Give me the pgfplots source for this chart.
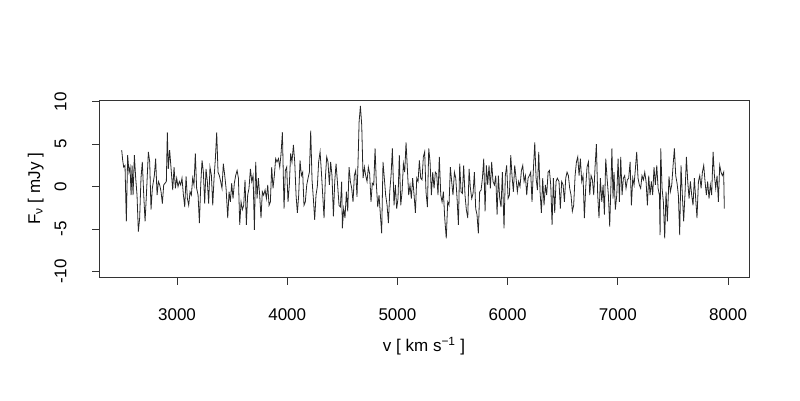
\documentclass[border=0pt]{standalone}
\usepackage{fontspec}
\setmainfont{Liberation Sans}
\usepackage{pgfplots}
\pgfplotsset{compat=1.18}
\begin{document}
\begin{tikzpicture}[x=1bp,y=1bp]
\path[use as bounding box] (0,0) rectangle (800,400);
\begin{axis}[
  at={(99bp,122.5bp)}, anchor=south west,
  scale only axis, width=650bp, height=177.5bp,
  xmin=2292, xmax=8190, ymin=-10.7, ymax=10.2,
  axis line style={black!80, line width=0.8bp},
  xtick={3000,4000,5000,6000,7000,8000},
  ytick={-10,-5,0,5,10},
  xtick pos=bottom, ytick pos=left,
  tick align=outside, major tick length=7bp,
  tick style={black!80, line width=0.8bp},
  scaled x ticks=false,
  /pgf/number format/assume math mode=true,
  /pgf/number format/set thousands separator={},
  ticklabel style={font=\fontsize{17bp}{20bp}\selectfont},
  yticklabel style={rotate=90, anchor=south},
  xticklabel shift=21bp, yticklabel shift=22bp,
  label style={font=\fontsize{17bp}{20bp}\selectfont},
  xlabel shift=9bp, ylabel shift=4bp,
  xlabel={v [ km s\textsuperscript{−1} ]},
  ylabel={F\textsubscript{ν} [ mJy ]},
]
\addplot[black!85, line width=0.8bp, mark=none] coordinates {
(2498,4.3) (2507,3.1) (2516,2.3) (2528,2.5) (2540,-4.1) (2552,3.7) (2564,1.7) (2574,2.3)
(2583,-1.0) (2592,2.5) (2601,-1.0) (2613,3.7) (2625,1.0) (2637,-1.0) (2649,-5.3) (2661,-3.7)
(2673,1.0) (2685,2.9) (2698,-1.0) (2710,-4.1) (2722,-1.0) (2740,4.1) (2752,2.9) (2764,-2.7)
(2776,-0.2) (2794,1.3) (2806,3.3) (2819,-1.0) (2831,0.6) (2843,0.2) (2855,-0.6) (2867,-2.0)
(2879,0.2) (2891,0.4) (2903,0.6) (2912,6.4) (2921,2.1) (2933,4.3)
(2961,-0.4) (2973,2.3) (2985,-0.2) (2997,1.0) (3009,0.0) (3021,0.6) (3033,0.2) (3045,1.0)
(3058,-1.0) (3070,-2.4) (3082,1.2) (3094,-1.4) (3106,-2.2) (3118,-0.6) (3130,-1.0) (3142,1.0)
(3154,0.2) (3166,3.9) (3178,-0.2) (3191,-1.0) (3203,-4.3) (3215,0.2) (3227,3.1) (3239,1.7)
(3251,-2.0) (3263,2.1) (3275,0.6) (3287,-2.0) (3299,2.3) (3312,1.3) (3324,-2.2) (3336,1.0)
(3348,3.3) (3360,6.4) (3372,1.7) (3384,1.3) (3396,0.6) (3408,-0.2) (3420,2.7) (3433,1.3)
(3445,-0.2)
(3460,-3.7) (3472,-0.6) (3484,-1.8) (3496,0.4) (3508,-1.4) (3520,0.4) (3532,1.3) (3545,1.9)
(3557,1.0) (3569,-4.5) (3581,-1.8) (3593,-2.7) (3605,-2.2) (3617,0.8) (3629,-4.5) (3641,-1.0)
(3653,-0.2) (3666,2.1) (3678,0.6) (3690,1.3) (3702,-5.1) (3714,2.9) (3726,-1.4) (3738,1.0)
(3750,-1.0) (3762,-3.7) (3774,-0.6) (3786,-1.0) (3799,-0.4) (3811,-1.4) (3823,0.2) (3835,-2.2)
(3847,-1.8) (3859,2.3) (3871,-0.2) (3883,1.3) (3895,3.3) (3907,2.9) (3920,3.3) (3932,2.3)
(3944,3.9) (3956,6.4)
(3971,-2.6) (3983,1.9) (3995,2.3) (4007,-1.8) (4019,0.2) (4031,3.9) (4043,2.9) (4056,4.9)
(4068,2.9) (4080,-1.0) (4092,-3.1) (4104,-1.0) (4116,3.1) (4128,1.3) (4140,1.7) (4152,-2.2)
(4164,-1.8) (4177,0.2) (4189,1.0) (4201,1.7) (4213,6.6) (4225,0.8) (4237,-1.4) (4249,-3.9)
(4261,-1.0) (4273,0.0) (4285,2.9) (4298,4.1) (4310,1.7) (4322,-1.0) (4334,-3.7) (4346,1.0)
(4358,3.5) (4370,2.9) (4382,0.2) (4394,2.9) (4406,1.3) (4419,-3.5) (4431,0.6) (4443,2.7)
(4455,0.6)
(4470,-2.2) (4482,-2.4) (4494,0.6) (4500,-4.9) (4512,-2.6) (4524,-3.7) (4537,-0.6) (4549,-2.9)
(4561,2.3) (4573,0.6) (4585,-0.2) (4597,-1.8) (4609,1.3) (4621,1.9) (4633,-1.2) (4645,4.1)
(4652,7.6) (4664,9.5) (4676,7.2) (4688,1.0) (4700,2.3) (4712,1.3) (4724,0.6) (4736,2.3)
(4748,1.5) (4760,-1.8) (4772,0.4) (4785,0.2) (4797,4.5) (4809,0.2) (4821,-2.4) (4833,-1.0)
(4845,-3.3) (4857,-5.5) (4869,2.9) (4881,1.0) (4893,-1.0) (4906,-2.2) (4918,-4.3) (4930,-0.6)
(4942,1.3) (4954,4.5)
(4969,-2.2) (4981,0.2) (4993,-2.6) (5005,-1.4) (5017,3.7) (5030,-2.2) (5042,-0.6) (5054,2.7)
(5066,1.7) (5078,5.2) (5090,2.1) (5102,-1.0) (5114,0.2) (5126,-1.4) (5138,1.0) (5151,-1.0)
(5163,-3.1) (5175,1.0) (5187,0.6) (5199,3.1) (5211,1.0) (5223,0.8) (5235,3.5) (5247,4.1)
(5259,-0.6) (5272,-2.4) (5284,4.5) (5296,2.9) (5308,-1.0) (5320,1.7) (5332,-0.2) (5344,1.7)
(5356,1.5) (5368,-1.0) (5380,3.5) (5393,-1.0) (5405,-1.8) (5417,-0.6) (5429,-3.7) (5443,-6.1)
(5456,-1.8) (5468,-2.2) (5480,2.3) (5492,0.6) (5504,-1.0) (5517,1.7) (5529,1.0) (5541,-1.4)
(5553,-4.5) (5565,2.7) (5577,-0.6) (5589,-0.8) (5601,2.5) (5613,-1.0) (5625,-2.7) (5638,-3.7)
(5650,2.1) (5662,-0.2) (5674,-1.4) (5686,-0.8) (5698,1.7) (5710,-2.6) (5722,-3.3) (5734,-5.5)
(5746,-0.6) (5759,-0.4) (5771,1.0) (5783,3.3) (5795,-2.9) (5807,2.5) (5819,0.2) (5831,2.5)
(5843,-0.2) (5855,2.9) (5867,0.6) (5880,0.2) (5892,1.3) (5904,-3.3) (5916,1.3) (5928,-1.4)
(5940,-2.4) (5952,1.7)
(5967,-4.9) (5979,1.3) (5991,2.5) (6004,-1.4) (6016,-1.0) (6028,3.7) (6040,1.2) (6052,-0.6)
(6064,2.5) (6076,1.0) (6088,-0.6) (6100,0.6) (6112,0.0) (6125,1.9) (6137,2.5) (6149,0.6)
(6161,1.3) (6173,-1.0) (6185,1.0) (6197,1.3) (6209,1.7) (6221,-1.8) (6233,1.9) (6246,5.2)
(6258,1.0) (6270,-0.4) (6282,4.1) (6294,-0.6) (6306,-3.1) (6318,1.0) (6330,-2.2) (6342,0.2)
(6354,-1.0) (6367,1.7) (6379,1.9) (6391,0.2) (6403,-4.5) (6415,1.0) (6427,-3.1) (6439,0.6)
(6451,1.0)
(6466,0.6) (6478,-2.6) (6490,0.6) (6503,0.2) (6515,-1.8) (6527,1.0) (6539,1.7) (6551,1.3)
(6563,-0.2) (6575,-1.0) (6587,-2.9) (6599,-2.2) (6612,1.3) (6624,2.9) (6636,3.5) (6648,1.3)
(6660,3.3) (6672,0.6) (6684,1.3) (6696,-3.7) (6708,-0.2) (6720,2.3) (6733,2.9) (6745,-1.0)
(6757,1.3) (6769,0.8) (6781,-1.0) (6793,2.3) (6805,5.0) (6817,-1.0) (6829,-3.7) (6841,1.0)
(6854,-1.8) (6866,0.2) (6878,-3.3) (6890,3.3) (6902,1.0) (6914,-1.0) (6926,-4.7) (6938,0.6)
(6946,4.5)
(6956,-1.4) (6965,1.7) (6977,-2.7) (6990,-1.0) (7002,3.3) (7014,-1.8) (7026,3.5) (7038,-1.0)
(7050,1.0) (7062,1.3) (7074,-0.2) (7086,0.8) (7098,1.0) (7111,2.9) (7123,-2.2) (7135,1.0)
(7147,0.2) (7159,2.1) (7171,4.1) (7183,1.0) (7195,0.2) (7207,-0.2) (7219,1.3) (7232,0.8)
(7244,1.7) (7256,0.6) (7268,-2.2) (7280,1.3) (7292,-1.0) (7304,0.6) (7316,-1.0) (7328,2.3)
(7340,0.2) (7353,2.5) (7365,-0.2) (7377,-1.0) (7383,-5.7) (7389,4.5) (7401,-0.2) (7413,-1.8)
(7425,-6.1) (7437,-0.6) (7449,-4.1)
(7464,1.2) (7476,-0.6) (7489,0.2) (7501,2.5) (7513,4.5) (7525,1.3) (7537,0.4) (7549,-1.0)
(7561,-5.7) (7573,2.5) (7585,-1.0) (7597,-4.1) (7610,-0.6) (7622,3.5) (7634,0.6) (7646,-1.4)
(7658,0.6) (7670,-1.0) (7682,-2.2) (7694,1.0) (7706,-1.4) (7718,-3.7) (7731,0.6) (7743,1.3)
(7755,-0.2) (7767,1.7) (7779,2.5) (7791,0.6) (7803,-1.0) (7815,0.6) (7827,-1.4) (7839,0.2)
(7851,-1.0) (7864,4.1) (7876,1.3) (7888,-0.2) (7900,1.3) (7912,-1.8) (7924,2.5) (7936,1.7)
(7948,1.3) (7960,1.7) (7966,-2.6)
};
\end{axis}
\end{tikzpicture}
\end{document}
